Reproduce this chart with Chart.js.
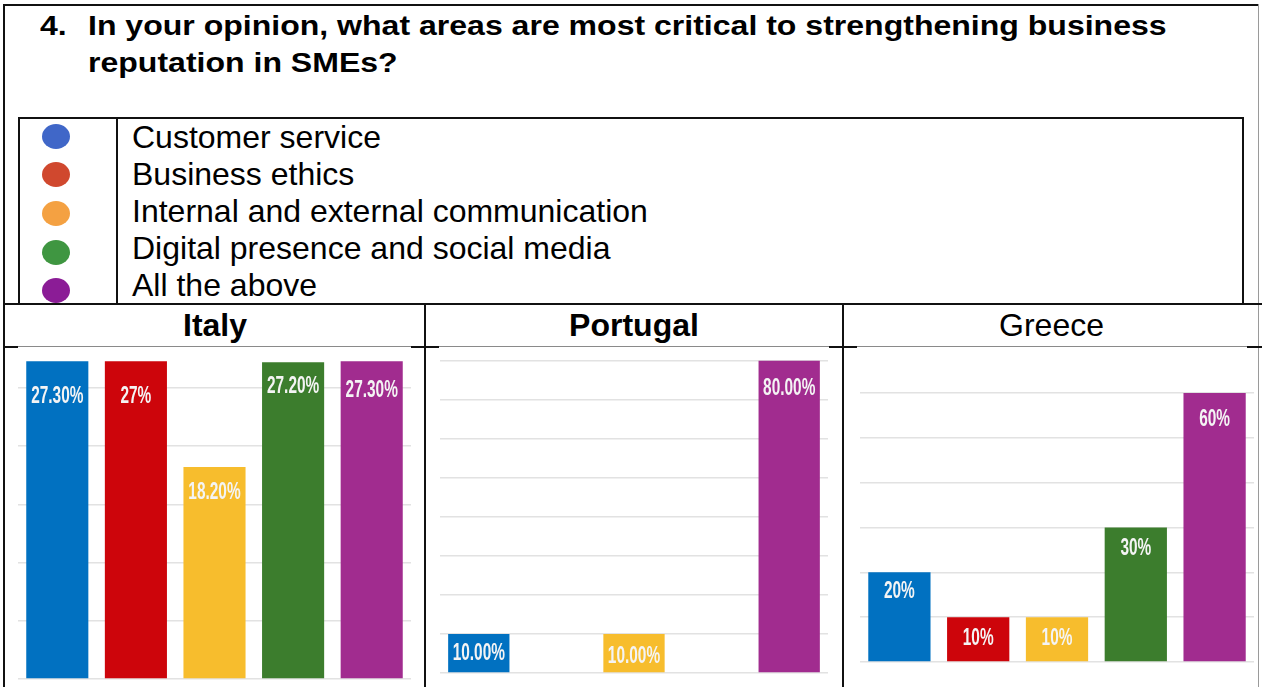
<!DOCTYPE html>
<html>
<head>
<meta charset="utf-8">
<script src="https://cdn.jsdelivr.net/npm/chart.js@4.4.1/dist/chart.umd.min.js"></script>
<style>
  html, body { margin:0; padding:0; background:#fff; }
  body { width:1262px; height:687px; position:relative; overflow:hidden; font-family:"Liberation Sans", Arial, sans-serif; color:#000; }
  .abs { position:absolute; }
  .line { position:absolute; background:#111; }
  .title { font-weight:bold; font-size:28px; line-height:37px; white-space:nowrap; transform-origin:0 0; transform:scaleX(1.144); }
  .legend-text { font-size:32px; line-height:37px; white-space:nowrap; }
  .dot { position:absolute; width:28px; height:25px; border-radius:50%; }
  .hdr { position:absolute; font-size:32px; line-height:32px; text-align:center; white-space:nowrap; }
  canvas { position:absolute; }
</style>
</head>
<body>
<!-- frame -->
<div class="line" style="left:3px;top:4px;width:2px;height:683px;"></div>
<div class="line" style="left:3px;top:4px;width:1256px;height:2px;"></div>
<div class="line" style="left:1258px;top:4px;width:1px;height:683px;background:#9a9a9a;"></div>

<!-- title -->
<div class="abs title" style="left:40px;top:7px;">4.</div>
<div class="abs title" style="left:88px;top:7px;">In your opinion, what areas are most critical to strengthening business<br>reputation in SMEs?</div>

<!-- legend table -->
<div class="line" style="left:18px;top:117px;width:1226px;height:2px;"></div>
<div class="line" style="left:18px;top:117px;width:2px;height:187px;"></div>
<div class="line" style="left:1242px;top:117px;width:2px;height:187px;"></div>
<div class="line" style="left:116px;top:117px;width:2px;height:187px;"></div>
<div id="legendDots"></div>
<div id="legendText" class="abs legend-text" style="left:132px;top:119px;"></div>

<!-- country row -->
<div class="line" style="left:3px;top:303px;width:1259px;height:2px;"></div>
<div class="line" style="left:424px;top:304px;width:2px;height:383px;"></div>
<div class="line" style="left:842px;top:304px;width:2px;height:383px;"></div>
<div class="line" style="left:3px;top:346px;width:1259px;height:1px;background:#8a8a8a;"></div>
<div class="line" style="left:3px;top:346px;width:15px;height:2px;"></div>
<div class="line" style="left:411px;top:346px;width:28px;height:2px;"></div>
<div class="line" style="left:829px;top:346px;width:28px;height:2px;"></div>
<div class="line" style="left:1247px;top:346px;width:15px;height:2px;"></div>

<div id="hdrs"></div>

<canvas id="cItaly" width="422" height="340" style="left:3px;top:347px;"></canvas>
<canvas id="cPortugal" width="418" height="340" style="left:425px;top:347px;"></canvas>
<canvas id="cGreece" width="417" height="340" style="left:843px;top:347px;"></canvas>

<script>
// ---- data ----
const categories = ['Customer service', 'Business ethics', 'Internal and external communication', 'Digital presence and social media', 'All the above'];
const countries = ['Italy', 'Portugal', 'Greece'];
const italyValues = [27.3, 27.3, 18.2, 27.2, 27.3];
const italyLabels = ['27.30%', '27%', '18.20%', '27.20%', '27.30%'];
const portugalValues = [10, 0, 10, 0, 80];
const portugalLabels = ['10.00%', '', '10.00%', '', '80.00%'];
const greeceValues = [20, 10, 10, 30, 60];
const greeceLabels = ['20%', '10%', '10%', '30%', '60%'];
const italyGrid = [0, 5, 10, 15, 20, 25];
const portugalGrid = [0, 10, 20, 30, 40, 50, 60, 70, 80];
const greeceGrid = [0, 10, 20, 30, 40, 50, 60];

// ---- styles ----
const barColors = ['#0171c1', '#cd050b', '#f7bd2d', '#3c7d2d', '#a12c8f'];
const dotColors = ['#4067c8', '#d0482e', '#f4a142', '#3f9641', '#8b1c96'];
// label centre distance below each bar top (px)
const italyLabelOffsets = [35, 35, 25, 23, 29];
const portugalLabelOffsets = [19, 0, 22, 0, 27];
const greeceLabelOffsets = [18, 21, 21, 20, 26];

// legend
const dotY = [136, 174, 213, 252, 290];
const dotsEl = document.getElementById('legendDots');
categories.forEach((c, i) => {
  const d = document.createElement('div');
  d.className = 'dot';
  d.style.left = (56 - 14) + 'px';
  d.style.top = (dotY[i] - 12.5) + 'px';
  d.style.background = dotColors[i];
  dotsEl.appendChild(d);
});
document.getElementById('legendText').innerHTML = categories.join('<br>');

// headers
const hdrBoxes = [[5, 420], [426, 416], [844, 415]];
const hdrBold = [true, true, false];
const hdrs = document.getElementById('hdrs');
countries.forEach((c, i) => {
  const h = document.createElement('div');
  h.className = 'hdr';
  h.textContent = c;
  h.style.left = hdrBoxes[i][0] + 'px';
  h.style.width = hdrBoxes[i][1] + 'px';
  h.style.top = '309px';
  h.style.fontWeight = hdrBold[i] ? 'bold' : 'normal';
  hdrs.appendChild(h);
});

// value label plugin (condensed bold white text near bar top)
const valueLabels = {
  id: 'valueLabels',
  afterDatasetsDraw(chart) {
    const opts = chart.options.plugins.valueLabels;
    const meta = chart.getDatasetMeta(0);
    const ctx = chart.ctx;
    meta.data.forEach((bar, i) => {
      const txt = opts.labels[i];
      if (!txt) return;
      ctx.save();
      ctx.font = 'bold 23px "Liberation Sans", Arial, sans-serif';
      ctx.fillStyle = '#f4f4f4';
      ctx.textAlign = 'center';
      ctx.textBaseline = 'middle';
      ctx.translate(bar.x, bar.y + opts.offsets[i]);
      ctx.scale(0.67, 1);
      ctx.fillText(txt, 0, 1);
      ctx.restore();
    });
  }
};

function makeChart(id, values, labels, offsets, gridVals, yMax, pad) {
  return new Chart(document.getElementById(id), {
    type: 'bar',
    data: {
      labels: categories,
      datasets: [{ data: values, backgroundColor: barColors, borderWidth: 0, barPercentage: 0.79, categoryPercentage: 1 }]
    },
    options: {
      responsive: false,
      animation: false,
      devicePixelRatio: 1,
      layout: { padding: pad },
      plugins: { legend: { display: false }, tooltip: { enabled: false }, valueLabels: { labels: labels, offsets: offsets } },
      scales: {
        x: { display: false },
        y: {
          display: true, min: 0, max: yMax,
          ticks: { display: false },
          border: { display: false },
          grid: { color: '#e2e2e2', lineWidth: 1.5, drawTicks: false },
          afterBuildTicks: s => { s.ticks = gridVals.map(v => ({ value: v })); }
        }
      }
    },
    plugins: [valueLabels]
  });
}

makeChart('cItaly', italyValues, italyLabels, italyLabelOffsets, italyGrid, 28, { left: 15, right: 14, top: 6, bottom: 8 });
makeChart('cPortugal', portugalValues, portugalLabels, portugalLabelOffsets, portugalGrid, 82, { left: 15, right: 15, top: 6, bottom: 14 });
makeChart('cGreece', greeceValues, greeceLabels, greeceLabelOffsets, greeceGrid, 68, { left: 17, right: 6, top: 10, bottom: 25 });
</script>
</body>
</html>
